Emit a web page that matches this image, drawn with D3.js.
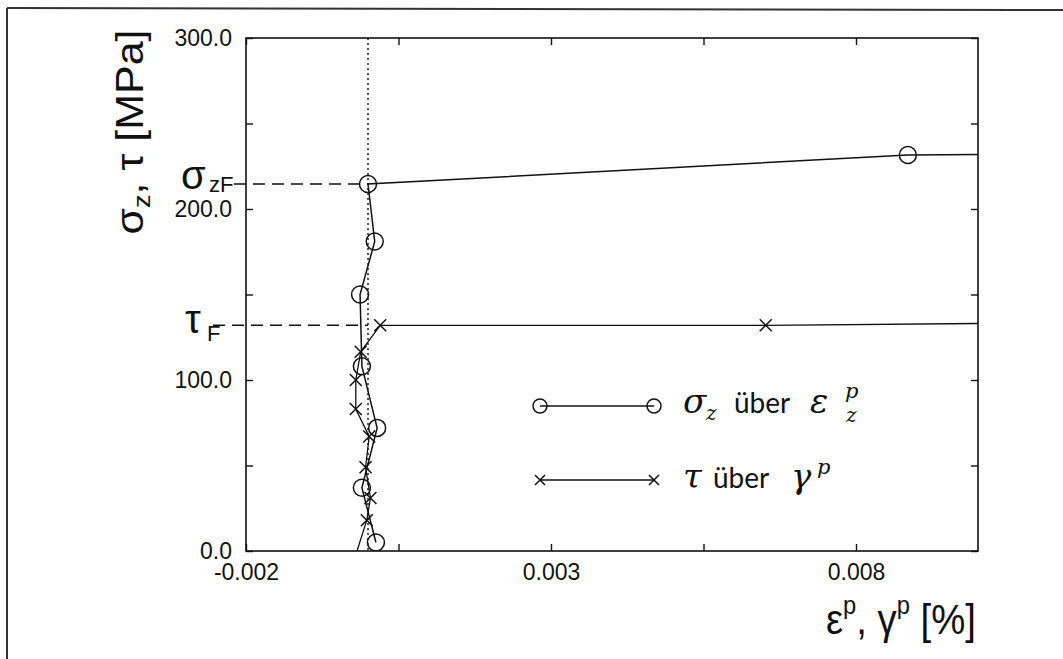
<!DOCTYPE html>
<html>
<head>
<meta charset="utf-8">
<script src="https://cdn.jsdelivr.net/npm/d3@7"></script>
<style>
    body { margin: 0; background: #fff; }
    svg { display: block; }
    .axis text { font-family: "Liberation Sans", Arial, sans-serif; font-size: 23px; fill: #111; }
    .axis line { stroke: #111; stroke-width: 1.4; }
</style>
</head>
<body>
<div id="chart"></div>
<script>
// sigma_z over eps_z^p (loading path, last point runs off the right edge)
const sigmaStrain = [0.00013, -0.0001, 0.00015, -0.0001, -0.00013, 0.00011, 0.0, 0.00885, 0.0115];
const sigmaStress = [5, 37, 72, 108, 150, 181, 214.6, 231.6, 232.2];

// tau over gamma^p (starts at the origin, last point off the right edge)
const tauStrain = [-0.00018, -0.00002, 0.00004, -0.00004, 0.00002, -0.0002, -0.0002, -0.00012, 0.0002, 0.00652, 0.0115];
const tauStress = [0, 18, 31, 49, 67, 83, 100, 116.5, 132, 132, 133.5];

// yield levels
const sigmaYield = 214.6;
const tauYield = 132;

const xTicks = [-0.002, 0.0005, 0.003, 0.0055, 0.008];
const xTickLabels = [-0.002, 0.003, 0.008];
const yTicks = [0, 50, 100, 150, 200, 250, 300];
const yTickLabels = [0, 100, 200, 300];

const width = 1063;
const height = 659;
const margin = { top: 38, right: 85, bottom: 108, left: 246 };
const innerW = width - margin.left - margin.right;
const innerH = height - margin.top - margin.bottom;

const svg = d3.select('#chart')
    .append('svg')
    .attr('width', width)
    .attr('height', height);

// scanned page frame
svg.append('line').attr('x1', 7).attr('y1', 8).attr('x2', width).attr('y2', 10)
    .attr('stroke', '#333').attr('stroke-width', 2);
svg.append('line').attr('x1', 7).attr('y1', 8).attr('x2', 7).attr('y2', height)
    .attr('stroke', '#333').attr('stroke-width', 2);

const xScale = d3.scaleLinear().domain([-0.002, 0.01]).range([0, innerW]);
const yScale = d3.scaleLinear().domain([0, 300]).range([innerH, 0]);

const g = svg.append('g')
    .attr('transform', `translate(${margin.left},${margin.top})`);

svg.append('defs').append('clipPath').attr('id', 'plot-clip')
    .append('rect').attr('width', innerW).attr('height', innerH);

// axes, ticks pointing inward
const fmtX = d => xTickLabels.includes(d) ? d3.format('.3f')(d).replace('−', '-') : '';
const fmtY = d => yTickLabels.includes(d) ? d3.format('.1f')(d) : '';

g.append('g').attr('class', 'axis')
    .attr('transform', `translate(0,${innerH})`)
    .call(d3.axisBottom(xScale).tickValues(xTicks).tickFormat(fmtX)
        .tickSizeInner(-7).tickSizeOuter(0).tickPadding(13));
g.append('g').attr('class', 'axis')
    .call(d3.axisTop(xScale).tickValues(xTicks).tickFormat('')
        .tickSizeInner(-7).tickSizeOuter(0));
g.append('g').attr('class', 'axis')
    .call(d3.axisLeft(yScale).tickValues(yTicks).tickFormat(fmtY)
        .tickSizeInner(-7).tickSizeOuter(0).tickPadding(14));
g.append('g').attr('class', 'axis')
    .attr('transform', `translate(${innerW},0)`)
    .call(d3.axisRight(yScale).tickValues(yTicks).tickFormat('')
        .tickSizeInner(-7).tickSizeOuter(0));
g.selectAll('.axis .domain').remove();

g.append('rect')
    .attr('width', innerW).attr('height', innerH)
    .attr('fill', 'none').attr('stroke', '#111').attr('stroke-width', 1.6);

// reference lines
g.append('line')
    .attr('x1', xScale(0)).attr('x2', xScale(0))
    .attr('y1', 0).attr('y2', innerH)
    .attr('stroke', '#111').attr('stroke-width', 1.4).attr('stroke-dasharray', '2,3');
g.append('line')
    .attr('x1', -12).attr('x2', xScale(0))
    .attr('y1', yScale(sigmaYield)).attr('y2', yScale(sigmaYield))
    .attr('stroke', '#111').attr('stroke-width', 1.4).attr('stroke-dasharray', '12,7');
g.append('line')
    .attr('x1', -33).attr('x2', xScale(0))
    .attr('y1', yScale(tauYield)).attr('y2', yScale(tauYield))
    .attr('stroke', '#111').attr('stroke-width', 1.4).attr('stroke-dasharray', '12,7');

// data
const sigmaData = sigmaStrain.map((e, i) => ({ e, s: sigmaStress[i] }));
const tauData = tauStrain.map((e, i) => ({ e, s: tauStress[i] }));

const line = d3.line().x(d => xScale(d.e)).y(d => yScale(d.s));
const plot = g.append('g').attr('clip-path', 'url(#plot-clip)');

plot.append('path').datum(sigmaData)
    .attr('d', line).attr('fill', 'none').attr('stroke', '#111').attr('stroke-width', 1.5);
plot.append('path').datum(tauData)
    .attr('d', line).attr('fill', 'none').attr('stroke', '#111').attr('stroke-width', 1.3);

const crossPath = s => `M${-s},${-s}L${s},${s}M${-s},${s}L${s},${-s}`;

plot.selectAll('.sig-mark')
    .data(sigmaData.slice(0, -1))
    .enter().append('circle')
    .attr('class', 'sig-mark')
    .attr('cx', d => xScale(d.e)).attr('cy', d => yScale(d.s))
    .attr('r', 8.5).attr('fill', 'none').attr('stroke', '#111').attr('stroke-width', 1.5);

plot.selectAll('.tau-mark')
    .data(tauData.slice(1, -1))
    .enter().append('path')
    .attr('class', 'tau-mark')
    .attr('transform', d => `translate(${xScale(d.e)},${yScale(d.s)})`)
    .attr('d', crossPath(6)).attr('stroke', '#111').attr('stroke-width', 1.5);

// yield labels left of the axis
const sansFont = '"Liberation Sans", Arial, sans-serif';
const serifIt = '"DejaVu Serif", "Liberation Serif", serif';

function piece(x, y, txt, size, family, style) {
    return svg.append('text')
        .attr('x', x).attr('y', y)
        .attr('font-family', family).attr('font-size', size)
        .attr('font-style', style || 'normal')
        .attr('fill', '#111')
        .text(txt);
}

piece(181, 189, 'σ', 40, sansFont);
piece(209, 192, 'zF', 22, sansFont);
piece(185, 333, 'τ', 40, sansFont);
piece(207, 341, 'F', 22, sansFont);

// axis titles
const yTitle = svg.append('text')
    .attr('transform', 'translate(143,132) rotate(-90)')
    .attr('text-anchor', 'middle')
    .attr('font-family', sansFont).attr('font-size', 38)
    .attr('fill', '#111')
    .attr('textLength', 205).attr('lengthAdjust', 'spacingAndGlyphs');
yTitle.append('tspan').text('σ');
yTitle.append('tspan').attr('font-size', 24).attr('dy', 7).text('z');
yTitle.append('tspan').attr('dy', -7).text(', τ [MPa]');

const xTitle = svg.append('text')
    .attr('x', 826).attr('y', 634)
    .attr('font-family', sansFont).attr('font-size', 42)
    .attr('fill', '#111')
    .attr('textLength', 150).attr('lengthAdjust', 'spacingAndGlyphs');
xTitle.append('tspan').text('ε');
xTitle.append('tspan').attr('font-size', 26).attr('dy', -20).text('p');
xTitle.append('tspan').attr('dy', 20).text(', γ');
xTitle.append('tspan').attr('font-size', 26).attr('dy', -20).text('p');
xTitle.append('tspan').attr('dy', 20).text(' [%]');

// legend
const legRows = [
    { y: 406, kind: 'circle' },
    { y: 480, kind: 'cross' }
];
legRows.forEach(r => {
    svg.append('line')
        .attr('x1', 540).attr('x2', 654).attr('y1', r.y).attr('y2', r.y)
        .attr('stroke', '#111').attr('stroke-width', 1.3);
    [540, 654].forEach(cx => {
        if (r.kind === 'circle') {
            svg.append('circle').attr('cx', cx).attr('cy', r.y).attr('r', 7)
                .attr('fill', 'none').attr('stroke', '#111').attr('stroke-width', 1.5);
        } else {
            svg.append('path').attr('transform', `translate(${cx},${r.y})`)
                .attr('d', crossPath(5)).attr('stroke', '#111').attr('stroke-width', 1.5);
        }
    });
});

const legSans = 'Lato, "Open Sans", sans-serif';
piece(683, 413, 'σ', 34, serifIt, 'italic');
piece(706, 420, 'z', 20, serifIt, 'italic');
piece(734, 413, 'über', 28, legSans);
piece(810, 413, 'ε', 34, serifIt, 'italic');
piece(845, 398, 'p', 21, serifIt, 'italic');
piece(846, 422, 'z', 20, serifIt, 'italic');

piece(683, 488, 'τ', 34, serifIt, 'italic');
piece(713, 488, 'über', 28, legSans);
piece(791, 488, 'γ', 34, serifIt, 'italic');
piece(817, 474, 'p', 21, serifIt, 'italic');
</script>
</body>
</html>
